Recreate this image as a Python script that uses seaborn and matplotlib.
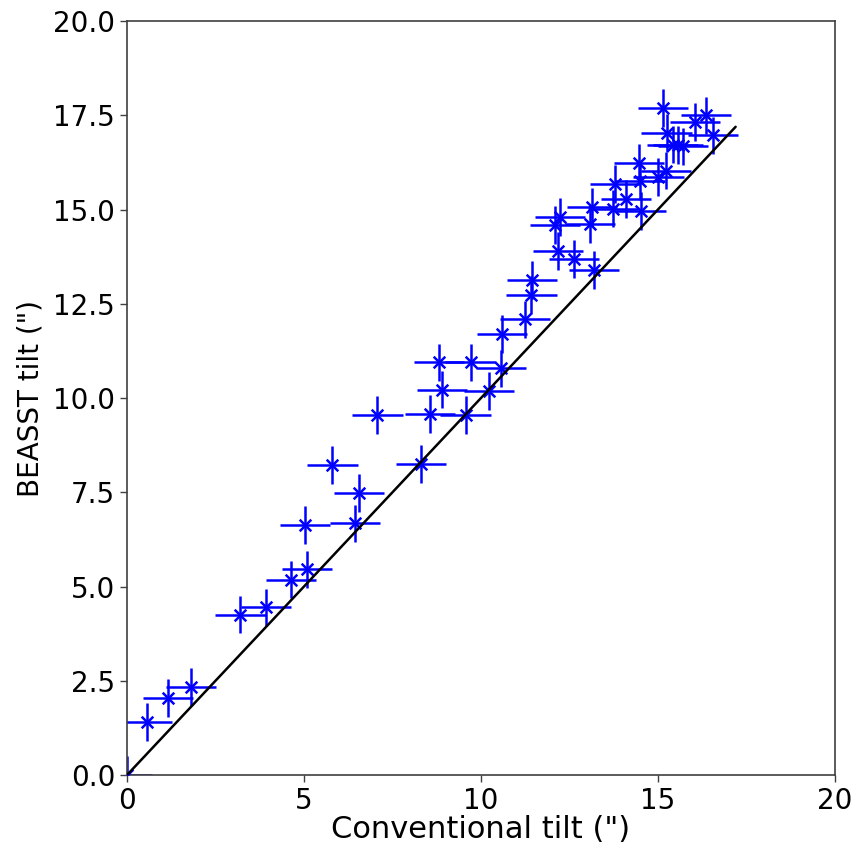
import numpy as np
import pandas as pd
import matplotlib
matplotlib.use("Agg")
import matplotlib.pyplot as plt
import seaborn as sns

# Tilt measurements (arcsec): conventional method vs BEASST
conventional = [0.00, 0.56, 1.17, 1.81, 3.21, 3.93, 4.63, 5.10, 5.03, 6.44,
                6.56, 5.81, 8.31, 7.08, 8.56, 9.57, 8.91, 8.82, 9.71, 10.23,
                10.58, 10.61, 11.24, 11.43, 11.45, 13.19, 12.63, 12.18, 12.09, 12.23,
                13.08, 13.15, 13.74, 14.10, 14.53, 13.80, 14.47, 14.49, 15.02, 15.23,
                15.14, 15.25, 15.42, 15.58, 15.72, 16.05, 16.36, 16.56]
beasst = [0.00, 1.41, 2.05, 2.34, 4.26, 4.45, 5.19, 5.46, 6.63, 6.68,
          7.49, 8.22, 8.26, 9.55, 9.59, 9.55, 10.23, 10.95, 10.95, 10.19,
          10.79, 11.70, 12.09, 12.73, 13.14, 13.40, 13.69, 13.90, 14.59, 14.81,
          14.63, 15.07, 15.03, 15.29, 14.97, 15.69, 16.25, 15.75, 15.86, 16.04,
          17.70, 17.03, 16.73, 16.71, 16.68, 17.33, 17.50, 16.97]
conventional_err = 0.71
beasst_err = 0.50

# One-to-one reference line
ref_line = [0.0, 17.2]

df = pd.DataFrame({"conventional": conventional, "beasst": beasst})
line_df = pd.DataFrame({"x": ref_line, "y": ref_line})

sns.set_style("ticks")
plt.rcParams["font.family"] = ["DejaVu Sans"]
plt.rcParams["text.color"] = "black"
plt.rcParams["axes.labelcolor"] = "black"
plt.rcParams["xtick.color"] = "black"
plt.rcParams["ytick.color"] = "black"

fig = plt.figure(figsize=(8.57, 8.5), dpi=100)
ax = fig.add_axes([0.148, 0.088, 0.826, 0.887])

ax.errorbar(df["conventional"], df["beasst"], xerr=conventional_err, yerr=beasst_err,
            fmt="none", ecolor="blue", elinewidth=1.8, capsize=0, zorder=2)
sns.scatterplot(data=df, x="conventional", y="beasst", marker="x", color="blue",
                s=70, linewidth=1.8, ax=ax, zorder=3)
sns.lineplot(data=line_df, x="x", y="y", color="black", linewidth=1.8, ax=ax, zorder=4)

ax.set_xlim(0, 20)
ax.set_ylim(0, 20)
ax.set_xticks([0, 5, 10, 15, 20])
ax.set_yticks(np.arange(0, 20.1, 2.5))
ax.set_yticklabels([f"{v:.1f}" for v in np.arange(0, 20.1, 2.5)])
ax.set_xlabel('Conventional tilt (")', fontsize=22, labelpad=0)
ax.set_ylabel('BEASST tilt (")', fontsize=20, labelpad=6)
ax.tick_params(labelsize=20, length=5, width=1, color="0.25", direction="out")
for sp in ax.spines.values():
    sp.set_visible(True)
    sp.set_color("0.25")
    sp.set_linewidth(1.2)

fig.savefig("out.png", dpi=100)
